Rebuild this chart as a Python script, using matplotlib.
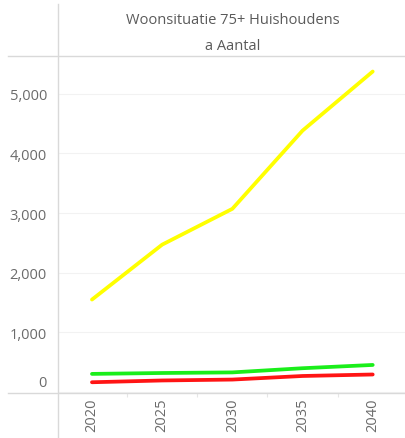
import numpy as np
import matplotlib
matplotlib.use('Agg')
import matplotlib.pyplot as plt
import matplotlib.transforms as mtransforms
from matplotlib.lines import Line2D
from matplotlib.ticker import FuncFormatter

plt.rcParams['font.family'] = ['Open Sans', 'DejaVu Sans']

years = [2020, 2025, 2030, 2035, 2040]
yellow_vals = [1550, 2470, 3070, 4380, 5370]
green_vals = [305, 320, 330, 400, 455]
red_vals = [165, 195, 210, 270, 295]
y_ticks = [0, 1000, 2000, 3000, 4000, 5000]

W, H = 405, 439
fig = plt.figure(figsize=(W / 100, H / 100), dpi=100)
ax = fig.add_axes([58 / W, (H - 394) / H, 1 - 58 / W, (394 - 57) / H])

ax.plot(years, yellow_vals, color='#ffff00', lw=2.7, solid_capstyle='round')
ax.plot(years, green_vals, color='#1aee1a', lw=2.7, solid_capstyle='round')
ax.plot(years, red_vals, color='#ff1414', lw=2.7, solid_capstyle='round')

ax.set_xlim(2017.58, 2042.3)
ax.set_ylim(-15, 5630)
ax.set_yticks(y_ticks)
ax.yaxis.set_major_formatter(FuncFormatter(lambda v, p: f'{int(v):,}'))
ax.set_xticks(years)
ax.set_xticks([2022.5, 2027.5, 2032.5, 2037.5], minor=True)
ax.grid(axis='y', color='#f2f2f2', lw=0.8)
ax.set_axisbelow(True)

for s in ax.spines.values():
    s.set_visible(False)

ax.tick_params(axis='y', length=0, pad=8, labelsize=10.5, labelcolor='#6b6b6b')
ax.tick_params(axis='x', which='major', length=0, pad=3, labelsize=10.5,
               labelcolor='#6b6b6b', labelrotation=90)
ax.tick_params(axis='x', which='minor', length=3, color='#e6e6e6', width=0.8)

# shift "0" label up like in the reference
zero_lbl = ax.get_yticklabels()[0]
zero_lbl.set_transform(zero_lbl.get_transform() +
                       mtransforms.ScaledTranslation(0, 12 / 100, fig.dpi_scale_trans))

# header / frame lines
gc = '#d9d9d9'
fig.add_artist(Line2D([8 / W, 1], [(H - 57) / H] * 2, color=gc, lw=1.0))
fig.add_artist(Line2D([8 / W, 1], [(H - 394) / H] * 2, color=gc, lw=1.0))
fig.add_artist(Line2D([58 / W] * 2, [0, (H - 5) / H], color=gc, lw=1.0))

fig.text(233 / W, (H - 21) / H, 'Woonsituatie 75+ Huishoudens', ha='center', va='center',
         fontsize=10.5, color='#5a5a5a')
fig.text(233 / W, (H - 46) / H, 'a Aantal', ha='center', va='center',
         fontsize=10.5, color='#5a5a5a')

plt.savefig('out.png', dpi=100)
plt.close(fig)
